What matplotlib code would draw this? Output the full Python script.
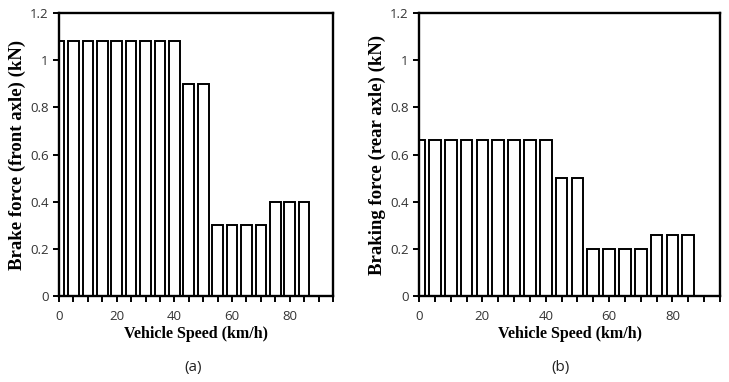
import matplotlib.pyplot as plt
from matplotlib.ticker import MultipleLocator

speed = [0, 5, 10, 15, 20, 25, 30, 35, 40, 45, 50, 55, 60, 65, 70, 75, 80, 85]
front_force = [1.08, 1.08, 1.08, 1.08, 1.08, 1.08, 1.08, 1.08, 1.08,
               0.9, 0.9, 0.3, 0.3, 0.3, 0.3, 0.4, 0.4, 0.4]
rear_force = [0.66, 0.66, 0.66, 0.66, 0.66, 0.66, 0.66, 0.66, 0.66,
              0.5, 0.5, 0.2, 0.2, 0.2, 0.2, 0.26, 0.26, 0.26]

W, H = 729, 382


def setup(ax, x, y, ylabel):
    ax.bar(x, y, width=3.7, color='white', edgecolor='black', linewidth=1.4)
    ax.set_xlim(0, 95)
    ax.set_ylim(0, 1.2)
    ax.xaxis.set_major_locator(MultipleLocator(20))
    ax.xaxis.set_minor_locator(MultipleLocator(5))
    ax.set_yticks([0, 0.2, 0.4, 0.6, 0.8, 1.0, 1.2])
    ax.set_yticklabels(['0', '0.2', '0.4', '0.6', '0.8', '1', '1.2'])
    ax.tick_params(axis='both', which='both', direction='out', length=4,
                   width=1.4, labelsize=9.5, colors='black', labelcolor='#333333')
    ax.tick_params(axis='x', which='both', pad=6)
    ax.tick_params(axis='y', which='minor', left=False)
    for s in ax.spines.values():
        s.set_linewidth(1.7)
    for lab in ax.get_xticklabels() + ax.get_yticklabels():
        lab.set_family('Open Sans')
    ax.set_xlabel('Vehicle Speed (km/h)', family='Liberation Serif',
                  fontweight='bold', fontsize=11.5, labelpad=2)
    ax.set_ylabel(ylabel, family='Liberation Serif', fontweight='bold',
                  fontsize=13.5, labelpad=3)


fig = plt.figure(figsize=(W / 100, H / 100), dpi=100)

ax_a = fig.add_axes([59 / W, 86 / H, 274 / W, 283 / H])
setup(ax_a, speed, front_force, 'Brake force (front axle) (kN)')

ax_b = fig.add_axes([419 / W, 86 / H, 301 / W, 283 / H])
setup(ax_b, speed, rear_force, 'Braking force (rear axle) (kN)')

fig.text(193 / W, 1 - 368 / H, '(a)', ha='center', va='center',
         family='Open Sans', fontsize=11, color='#222222')
fig.text(560 / W, 1 - 368 / H, '(b)', ha='center', va='center',
         family='Open Sans', fontsize=11, color='#222222')

fig.savefig('out.png', dpi=100)
